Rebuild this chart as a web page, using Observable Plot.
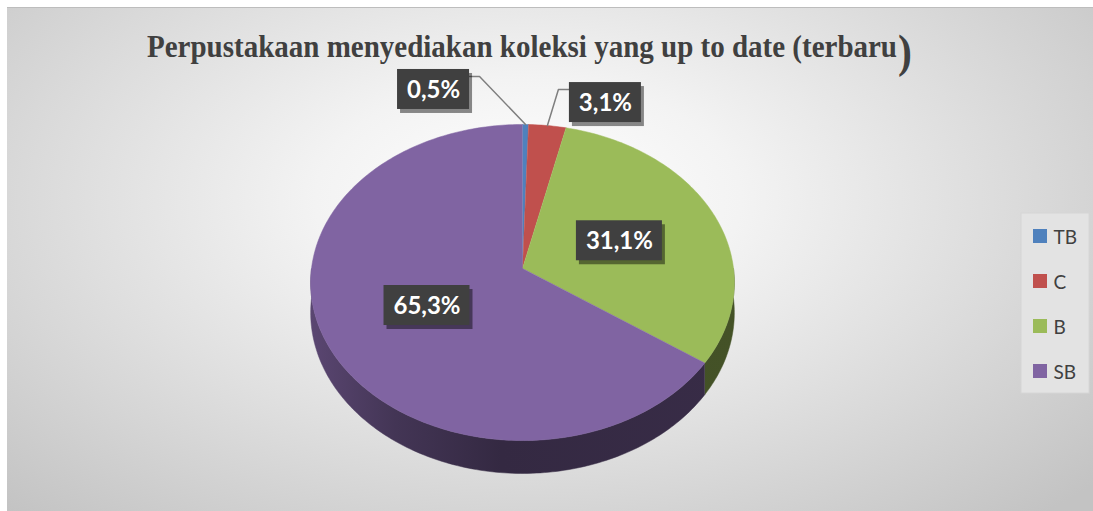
<!DOCTYPE html>
<html><head><meta charset="utf-8">
<script src="https://cdn.jsdelivr.net/npm/d3@7"></script>
<script src="https://cdn.jsdelivr.net/npm/@observablehq/plot@0.6"></script>
<style>
html,body{margin:0;padding:0;background:#fff;width:1093px;height:511px;overflow:hidden}
#bg{position:absolute;left:7px;top:7px;width:1086px;height:504px;
 background:radial-gradient(ellipse 70% 85% at 48% 38%, #ffffff 0%, #f3f3f3 28%, #c3c3c3 100%);
 border-top:1px solid #bdbdbd;box-sizing:border-box}
#chart{position:absolute;left:0;top:0}
.title{position:absolute;font-family:"Liberation Serif","Times New Roman",serif;font-weight:bold;color:#404040;white-space:nowrap;transform-origin:0 0}
</style></head><body>
<div id="bg"></div>
<div id="chart"></div>
<div id="title" class="title" style="left:147px;top:30px;font-size:32px;line-height:32px">Perpustakaan menyediakan koleksi yang up to date (terbaru</div>
<div id="paren" class="title" style="left:898px;top:29px;font-size:46px;line-height:46px">)</div>
<script>
// ---- data ----
const categories = ["TB", "C", "B", "SB"];
const values = [0.5, 3.1, 31.1, 65.3];
const colors = ["#4f81bd", "#c0504d", "#9bbb59", "#8064a2"];

// ---- layout (pixels) ----
// perspective disc: apex = projected pie centre
const G = {cx: 522, cy: 268, a: 211, b: 156.8, p: 0.0886, depth: 30};
const outside = {TB: {dx: -92, dy: -35, side: "right"}, C: {dx: 58, dy: -23, side: "left"}};
const L = {x1: 1021, x2: 1089, y1: 213, y2: 393, sx: 1033, sw: 14, tx: 1053, row0: 236, step: 45};
const fmt = v => v.toFixed(1).replace(".", ",") + "%";

const total = d3.sum(values);
let acc = 0;
const slices = categories.map((c, i) => {
  const a0 = acc / total * 360; acc += values[i];
  const a1 = acc / total * 360;
  return {cat: c, i, value: values[i], a0, a1, mid: (a0 + a1) / 2, label: fmt(values[i])};
});
// project point at angle deg (clockwise from back), radius r (unit disc), dropped by `down` units of depth
const proj = (deg, r = 1, down = 0, sx = 1, sy = 0) => {
  const t = deg * Math.PI / 180;
  const X = r * Math.sin(t), Z = r * Math.cos(t);
  const w = 1 + G.p * Z;
  return {x: G.cx + G.a * sx * X / w, y: G.cy - G.b * Z / w + down * G.depth / w + sy};
};
const arcPts = (a0, a1, down = 0, sx = 1, sy = 0) => {
  const n = Math.max(2, Math.ceil(a1 - a0));
  return d3.range(n + 1).map(k => proj(a0 + (a1 - a0) * k / n, 1, down, sx, sy));
};

// top faces
const topPts = slices.flatMap(s =>
  [{x: G.cx, y: G.cy}, ...arcPts(s.a0, s.a1)].map(p => ({...p, cat: s.cat})));
// side faces (visible front half 90..270)
const sides = slices.map(s => {
  const lo = Math.max(s.a0, 90), hi = Math.min(s.a1, 270);
  if (hi <= lo) return null;
  return {i: s.i, pts: [...arcPts(lo, hi, 0), ...arcPts(lo, hi, 1).reverse()]};
}).filter(Boolean);
// soft shadow
const shadowPts = [...arcPts(270, 450, 0, 1.035, 6), ...arcPts(90, 270, 1.25, 1.035, 6)];

// labels
const labelData = slices.map(s => {
  const len = s.label.length;
  const w = 14 * len + 16, h = 40;
  let x, y, leader = null;
  const r = proj(s.mid);
  if (outside[s.cat]) {
    const o = outside[s.cat];
    x = r.x + o.dx; y = r.y + o.dy;
    const ly = y - h / 2 + 7;
    const ex = o.side === "right" ? x + w / 2 : x - w / 2;
    const el = o.side === "right" ? ex + 10 : ex - 11;
    leader = [{x: ex, y: ly}, {x: el, y: ly}, {x: r.x, y: r.y}].map(p => ({...p, cat: s.cat}));
  } else {
    const m = proj(s.mid, 0.5);
    x = m.x; y = m.y;
  }
  return {...s, x, y, w, h, leader};
});
const leaders = labelData.filter(d => d.leader).flatMap(d => d.leader);
const legendData = categories.map((c, i) => ({cat: c, i, y: L.row0 + i * L.step}));

const marks = [
  Plot.line(shadowPts, {x: "x", y: "y", fill: "#000", fillOpacity: 0.28, stroke: "none", ariaLabel: "pie-shadow"}),
  ...sides.map(sd => Plot.line(sd.pts, {x: "x", y: "y", fill: `url(#side-${sd.i})`, stroke: `url(#side-${sd.i})`, strokeWidth: 0.5})),
  Plot.line(topPts, {x: "x", y: "y", z: "cat", fill: "cat", stroke: "cat", strokeWidth: 0.5}),
  Plot.line(leaders, {x: "x", y: "y", z: "cat", stroke: "#7f7f7f", strokeWidth: 1.5}),
  Plot.rect(labelData, {x1: d => d.x - d.w / 2 + 3, x2: d => d.x + d.w / 2 + 3, y1: d => d.y - d.h / 2 + 4, y2: d => d.y + d.h / 2 + 4, fill: "#000", fillOpacity: 0.45, ariaLabel: "box-shadow"}),
  Plot.rect(labelData, {x1: d => d.x - d.w / 2, x2: d => d.x + d.w / 2, y1: d => d.y - d.h / 2, y2: d => d.y + d.h / 2, fill: "#404040"}),
  Plot.text(labelData, {x: "x", y: "y", text: "label", fill: "white", fontSize: 24, fontWeight: "bold", fontFamily: "Lato", dy: 1}),
  Plot.rect([L], {x1: "x1", x2: "x2", y1: "y1", y2: "y2", fill: "#e3e3e3", stroke: "#d6d6d6"}),
  Plot.rect(legendData, {x1: () => L.sx, x2: () => L.sx + L.sw, y1: d => d.y - L.sw / 2, y2: d => d.y + L.sw / 2, fill: "cat"}),
  Plot.text(legendData, {x: () => L.tx, y: "y", text: "cat", textAnchor: "start", fontSize: 19, fontFamily: "Lato", fill: "#404040", dy: 1})
];

const svg = Plot.plot({
  width: 1093, height: 511, margin: 0,
  x: {domain: [0, 1093], range: [0, 1093], axis: null},
  y: {domain: [0, 511], range: [0, 511], axis: null},
  color: {domain: categories, range: colors},
  style: {background: "transparent"},
  marks
});
const s = d3.select(svg);
const defs = s.insert("defs", ":first-child");
colors.forEach((c, i) => {
  const g = defs.append("linearGradient").attr("id", `side-${i}`).attr("gradientUnits", "userSpaceOnUse")
    .attr("x1", G.cx - G.a).attr("x2", G.cx + G.a).attr("y1", 0).attr("y2", 0);
  [[0, 1.0], [0.2, 1.8], [0.45, 2.5], [1, 2.3]].forEach(([o, k]) =>
    g.append("stop").attr("offset", o).attr("stop-color", d3.color(c).darker(k).formatHex()));
});
s.selectAll('[aria-label="pie-shadow"]').style("filter", "blur(7px)");
s.selectAll('[aria-label="box-shadow"]').style("filter", "blur(2.5px)");
document.getElementById("chart").appendChild(svg);

// title fitting
const t = document.getElementById("title");
const tw = t.getBoundingClientRect().width;
const k = 750 / tw;
t.style.transform = `scaleX(${k})`;
document.getElementById("paren").style.transform = `scaleX(${k})`;
</script>
</body></html>
